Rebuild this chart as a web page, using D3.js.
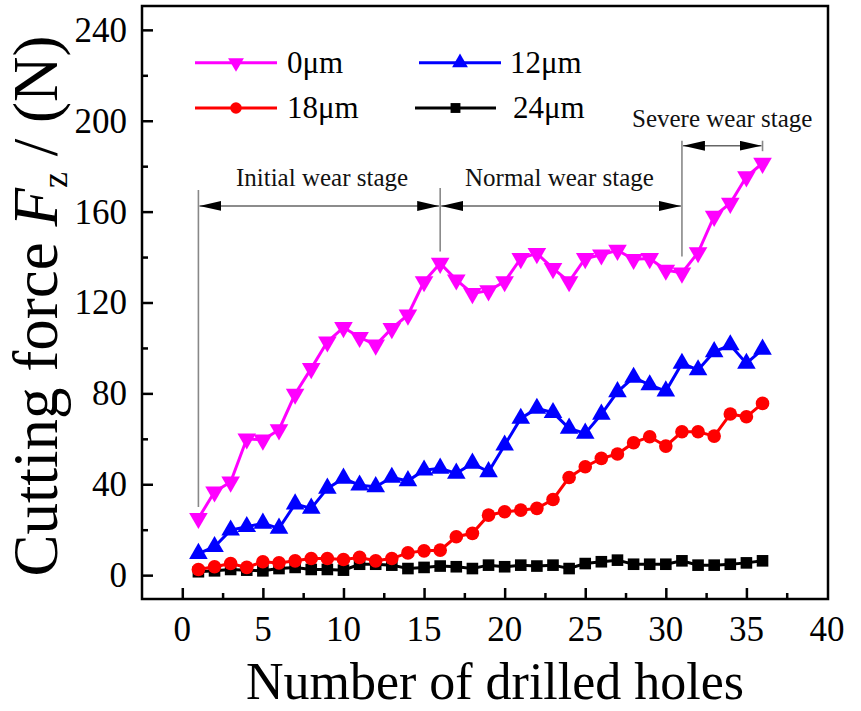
<!DOCTYPE html>
<html><head><meta charset="utf-8">
<script src="https://cdn.jsdelivr.net/npm/d3@7"></script>
<style>body{margin:0;background:#fff}svg{display:block}text{font-family:"Liberation Serif","Times New Roman",serif}</style>
</head><body>
<svg id="c" width="861" height="711"></svg>
<script>
const holes = d3.range(1, 37);
const series0 = [25,36.7,41,60,59.5,64,79.7,91,102.7,109,104.7,101.3,108.6,114.5,129.2,137.3,130,124,125.2,129.2,139.4,141.6,135,129.2,139.4,141,143,139,139.4,134.3,133,142,158,163.7,175.4,181.3];
const series12 = [9.5,12.5,19.8,21.3,22.8,20.6,31.3,29.4,38.2,42.6,39.6,38.9,43,41.5,46.2,47,44.8,49.2,45.5,57.2,69,73.4,71.5,64.6,62.4,70.8,80.7,87,83.7,81,93.2,90.3,98.3,101.3,93.2,99.4];
const series18 = [2.5,3.7,5.1,3.4,5.9,5.4,6.3,7.3,7.3,6.9,7.8,6.3,7.3,9.8,10.7,11,16.9,18.4,26.4,27.9,28.6,29.4,33.3,43,47.7,51.4,53.3,58.3,60.9,56.8,63.1,63.1,61.2,70.9,69.7,75.6];
const series24 = [1.5,1.9,2.5,2.2,1.9,2.9,3.4,2.5,2.5,2.2,4.8,4.8,4.4,2.9,3.4,4,3.7,2.9,4.4,3.7,4.4,4,4.4,2.9,5.1,5.9,6.6,4.8,4.8,4.8,6.3,4.4,4.4,4.8,5.4,6.3];
const seriesNames = ["0\u03bcm","12\u03bcm","18\u03bcm","24\u03bcm"];
const xTicks = [0,5,10,15,20,25,30,35,40];
const yTicks = [0,40,80,120,160,200,240];
const stageNames = ["Initial wear stage","Normal wear stage","Severe wear stage"];
const stageBounds = [1,16,31,36];

const svg = d3.select("#c");
const x = d3.scaleLinear().domain([-2.5, 40]).range([142, 827]);
const y = d3.scaleLinear().domain([-10.5, 250.5]).range([599, 6]);

// frame
svg.append("rect").attr("x", x(-2.5)).attr("y", y(250.5)).attr("width", x(40)-x(-2.5)+1).attr("height", y(-10.5)-y(250.5))
  .attr("fill","none").attr("stroke","#000").attr("stroke-width",2.5);

// axes ticks inward
const xAxis = d3.axisBottom(x).tickValues(xTicks.filter(v=>v<40)).tickSize(-11).tickFormat("");
const gx = svg.append("g").attr("transform",`translate(0,${y(-10.5)})`).call(xAxis);
const xMinor = d3.axisBottom(x).tickValues(d3.range(-2.5+5, 40, 5)).tickSize(-6).tickFormat("");
const gx2 = svg.append("g").attr("transform",`translate(0,${y(-10.5)})`).call(xMinor);
const yAxis = d3.axisLeft(y).tickValues(yTicks).tickSize(-11).tickFormat("");
const gy = svg.append("g").attr("transform",`translate(${x(-2.5)},0)`).call(yAxis);
const yMinor = d3.axisLeft(y).tickValues(d3.range(20, 250, 40)).tickSize(-6).tickFormat("");
const gy2 = svg.append("g").attr("transform",`translate(${x(-2.5)},0)`).call(yMinor);
[gx,gx2,gy,gy2].forEach(g=>{g.select(".domain").remove(); g.selectAll("line").attr("stroke","#000").attr("stroke-width",2.5);});

// tick labels
svg.append("g").selectAll("text").data(xTicks).join("text")
  .attr("x", d=>x(d)).attr("y", 641).attr("text-anchor","middle").attr("font-size",35).text(d=>d);
svg.append("g").selectAll("text").data(yTicks).join("text")
  .attr("x", 127).attr("y", d=>y(d)).attr("dy","0.34em").attr("text-anchor","end").attr("font-size",35).text(d=>d);

// titles
svg.append("text").attr("x", 495).attr("y", 699).attr("text-anchor","middle").attr("font-size",52).text("Number of drilled holes");
const yt = svg.append("text").attr("transform",`translate(57,306) rotate(-90)`).attr("text-anchor","middle").attr("font-size",63);
yt.append("tspan").text("Cutting force ");
yt.append("tspan").attr("font-style","italic").text("F");
yt.append("tspan").attr("font-size",36).attr("dy",10).text("z");
yt.append("tspan").attr("dy",-10).text(" / (N)");

// annotations
const ann = svg.append("g");
ann.append("defs").html(`<marker id="ah" viewBox="0 0 22 10" refX="22" refY="5" markerWidth="22" markerHeight="10" markerUnits="userSpaceOnUse" orient="auto-start-reverse"><path d="M0,0 L22,5 L0,10 Z" fill="#000"/></marker>`);
const vlines = [[1,169.5,30],[16,170.4,142.4],[31,191.2,140.2],[36,191.2,186.6]];
ann.selectAll("line.v").data(vlines).join("line").attr("class","v")
  .attr("x1",d=>x(d[0])).attr("x2",d=>x(d[0])).attr("y1",d=>y(d[1])).attr("y2",d=>y(d[2]))
  .attr("stroke","#888").attr("stroke-width",1.6);
const arrows = [[stageBounds[0],stageBounds[1],162.5],[stageBounds[1],stageBounds[2],162.5],[stageBounds[2],stageBounds[3],189]];
ann.selectAll("line.a").data(arrows).join("line").attr("class","a")
  .attr("x1",d=>x(d[0])+1).attr("x2",d=>x(d[1])-1).attr("y1",d=>y(d[2])).attr("y2",d=>y(d[2]))
  .attr("stroke","#666").attr("stroke-width",1.5)
  .attr("marker-start","url(#ah)").attr("marker-end","url(#ah)");
const labels = [[8.67,171.4],[23.4,171.4],[33.5,197.3]];
ann.selectAll("text").data(labels).join("text")
  .attr("x",d=>x(d[0])).attr("y",d=>y(d[1])).attr("text-anchor","middle").attr("font-size",25).attr("fill","#111")
  .text((d,i)=>stageNames[i]);

// series
const colors = ["#ff00ff","#0000ff","#ff0000","#000000"];
const all = [series0, series12, series18, series24];
function marker(g, i, cx, cy, scale){
  const s = scale||1;
  if(i===0){ g.append("path").attr("d", d3.symbol().type(d3.symbolTriangle).size(150*s*s)()).attr("transform",`translate(${cx},${cy}) rotate(180)`).attr("fill",colors[i]); }
  else if(i===1){ g.append("path").attr("d", d3.symbol().type(d3.symbolTriangle).size(150*s*s)()).attr("transform",`translate(${cx},${cy})`).attr("fill",colors[i]); }
  else if(i===2){ g.append("circle").attr("cx",cx).attr("cy",cy).attr("r",6.8*s).attr("fill",colors[i]); }
  else { g.append("rect").attr("x",cx-5.8*s).attr("y",cy-5.8*s).attr("width",11.6*s).attr("height",11.6*s).attr("fill",colors[i]); }
}
const line = d3.line().x((d,i)=>x(holes[i])).y(d=>y(d));
[3,2,1,0].forEach(i=>{
  const g = svg.append("g");
  g.append("path").attr("d", line(all[i])).attr("fill","none").attr("stroke",colors[i]).attr("stroke-width",3);
  all[i].forEach((v,j)=>marker(g,i,x(holes[j]),y(v)));
});

// legend
const leg = [[195,277,62.7,287],[419,501,62.7,510],[195,277,108,287],[415,496,108,513]];
leg.forEach((p,i)=>{
  const g = svg.append("g");
  g.append("line").attr("x1",p[0]).attr("x2",p[1]).attr("y1",p[2]).attr("y2",p[2]).attr("stroke",colors[i]).attr("stroke-width",3);
  marker(g,i,(p[0]+p[1])/2,p[2],0.85);
  g.append("text").attr("x",p[3]).attr("y",p[2]+10).attr("font-size",31).text(seriesNames[i]);
});
</script>
</body></html>
